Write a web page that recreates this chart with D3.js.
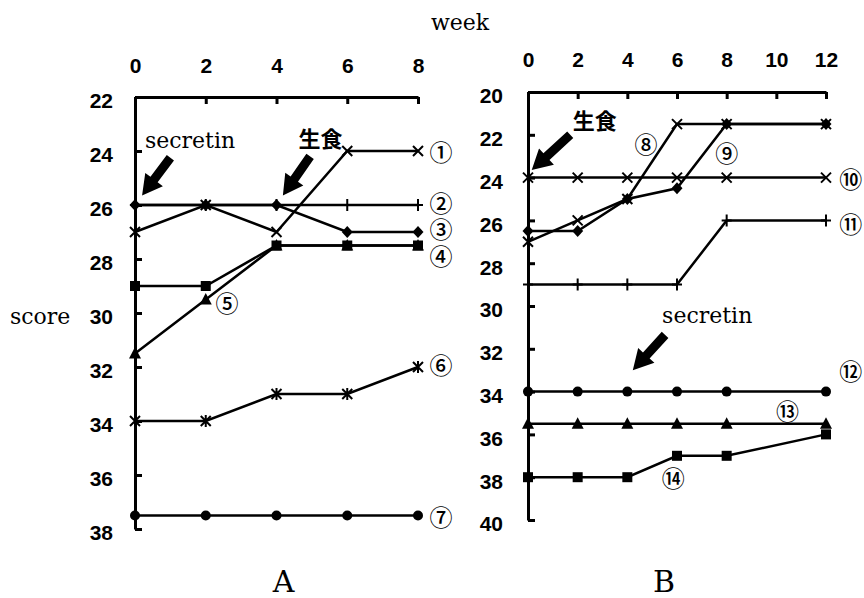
<!DOCTYPE html>
<html><head><meta charset="utf-8">
<script src="https://cdn.jsdelivr.net/npm/d3@7"></script>
<style>body{margin:0;background:#fff}svg{display:block}</style>
</head><body>
<svg id="c" width="864" height="598"></svg>
<script>
// ---------- data ----------
const weeksA = [0, 2, 4, 6, 8];
const weeksB = [0, 2, 4, 6, 8, 12];
const xTicksA = [0, 2, 4, 6, 8];
const xTicksB = [0, 2, 4, 6, 8, 10, 12];
const yTicksA = [22, 24, 26, 28, 30, 32, 34, 36, 38];
const yTicksB = [20, 22, 24, 26, 28, 30, 32, 34, 36, 38, 40];

const seriesNamesA = ["①", "②", "③", "④", "⑤", "⑥", "⑦"];
const markersA = ["x", "plus", "diamond", "square", "triangle", "asterisk", "circle"];
const s1 = [27, 26, 27, 24, 24];
const s2 = [26, 26, 26, 26, 26];
const s3 = [26, 26, 26, 27, 27];
const s4 = [29, 29, 27.5, 27.5, 27.5];
const s5 = [31.5, 29.5, 27.5, 27.5, 27.5];
const s6 = [34, 34, 33, 33, 32];
const s7 = [37.5, 37.5, 37.5, 37.5, 37.5];
// label anchor (week, score) for each circled number
const labelPosA = [[8.65, 24], [8.65, 25.88], [8.65, 26.85], [8.65, 27.85], [2.6, 29.6], [8.65, 31.9], [8.65, 37.5]];

const seriesNamesB = ["⑧", "⑨", "⑩", "⑪", "⑫", "⑬", "⑭"];
const markersB = ["x", "diamond", "x", "plus", "circle", "triangle", "square"];
const s8 = [27, 26, 25, 21.5, 21.5, 21.5];
const s9 = [26.5, 26.5, 25, 24.5, 21.5, 21.5];
const s10 = [24, 24, 24, 24, 24, 24];
const s11 = [29, 29, 29, 29, 26, 26];
const s12 = [34, 34, 34, 34, 34, 34];
const s13 = [35.5, 35.5, 35.5, 35.5, 35.5, 35.5];
const s14 = [38, 38, 38, 37, 37, 36];
const labelPosB = [[4.75, 22.4], [8.0, 22.8], [13.0, 24], [13.0, 26.1], [13.0, 33.0], [10.45, 34.85], [5.85, 38]];

// annotations: text + arrow (tail -> tip) in data units
const annotA = [
  {text: "secretin", at: [0.28, 23.9], font: "serif", tail: [1.0, 24.25], tip: [0.2, 25.65]},
  {text: "生食", at: [4.62, 23.85], font: "cjk", tail: [4.95, 24.2], tip: [4.18, 25.65]}
];
const annotB = [
  {text: "生食", at: [1.8, 21.75], font: "cjk", tail: [1.7, 22.0], tip: [0.15, 23.65]},
  {text: "secretin", at: [5.4, 30.8], font: "serif", tail: [5.52, 31.35], tip: [4.22, 33.0]}
];

// ---------- drawing ----------
const svg = d3.select("#c");
const SERIF = "'DejaVu Serif', 'Liberation Serif', serif";
const SANS = "'Liberation Sans', Arial, sans-serif";
const CJK = "'Noto Sans CJK JP', 'Noto Sans CJK SC', sans-serif";

function marker(g, type, px, py) {
  const k = g.append("g").attr("transform", `translate(${px},${py})`);
  if (type === "circle") k.append("circle").attr("r", 5).attr("fill", "#000");
  else if (type === "square") k.append("rect").attr("x", -5).attr("y", -5).attr("width", 10).attr("height", 10).attr("fill", "#000");
  else if (type === "diamond") k.append("path").attr("d", "M0,-6L5.5,0L0,6L-5.5,0Z").attr("fill", "#000");
  else if (type === "triangle") k.append("path").attr("d", "M0,-6.5L6,5L-6,5Z").attr("fill", "#000");
  else {
    let d = "";
    if (type === "x" || type === "asterisk") d += "M-5,-5L5,5M-5,5L5,-5";
    if (type === "plus") d += "M-5,0L5,0M0,-6L0,6";
    if (type === "asterisk") d += "M0,-6L0,6";
    k.append("path").attr("d", d).attr("stroke", "#000").attr("stroke-width", 2).attr("fill", "none");
  }
}

function arrow(g, tail, tip) {
  const [tx, ty] = tail, [hx, hy] = tip;
  const L = Math.hypot(hx - tx, hy - ty);
  const ux = (hx - tx) / L, uy = (hy - ty) / L;
  const nx = -uy, ny = ux;
  const sw = 4.5, hw = 11, hl = 20;
  const cx = hx - ux * hl, cy = hy - uy * hl;
  const pts = [
    [tx + nx * sw, ty + ny * sw], [cx + nx * sw, cy + ny * sw], [cx + nx * hw, cy + ny * hw],
    [hx, hy],
    [cx - nx * hw, cy - ny * hw], [cx - nx * sw, cy - ny * sw], [tx - nx * sw, ty - ny * sw]
  ];
  g.append("path").attr("d", "M" + pts.map(p => p.join(",")).join("L") + "Z").attr("fill", "#000");
}

function panel(cfg) {
  const x = d3.scaleLinear().domain(cfg.xDomain).range(cfg.xRange);
  const y = d3.scaleLinear().domain(cfg.yDomain).range(cfg.yRange);
  const g = svg.append("g");

  const ax = g.append("g").attr("transform", `translate(0,${cfg.yRange[0]})`)
    .call(d3.axisTop(x).tickValues(cfg.xTicks).tickSize(-7).tickSizeOuter(0).tickPadding(cfg.xPad));
  const ay = g.append("g").attr("transform", `translate(${cfg.xRange[0]},0)`)
    .call(d3.axisLeft(y).tickValues(cfg.yTicks).tickSize(-7).tickSizeOuter(0).tickPadding(cfg.yPad));
  [ax, ay].forEach(a => {
    a.attr("font-family", SANS).attr("font-size", 21).attr("font-weight", "bold");
    a.select(".domain").attr("stroke", "#000").attr("stroke-width", 3);
    a.selectAll(".tick line").attr("stroke", "#000").attr("stroke-width", 3);
    a.selectAll(".tick text").attr("fill", "#000");
  });
  ay.selectAll(".tick text").attr("dy", "0.52em");

  const line = d3.line().x((d, i) => x(cfg.weeks[i])).y(d => y(d));
  cfg.series.forEach((s, si) => {
    g.append("path").datum(s).attr("d", line).attr("fill", "none")
      .attr("stroke", "#000").attr("stroke-width", 2.5);
  });
  cfg.series.forEach((s, si) => {
    s.forEach((v, i) => marker(g, cfg.markers[si], x(cfg.weeks[i]), y(v)));
  });
  cfg.names.forEach((n, i) => {
    g.append("text").attr("x", x(cfg.labelPos[i][0])).attr("y", y(cfg.labelPos[i][1]))
      .attr("text-anchor", "middle").attr("dominant-baseline", "central")
      .attr("font-family", CJK).attr("font-size", 23).attr("font-weight", 500).attr("fill", "#000").text(n);
  });
  cfg.annot.forEach(a => {
    g.append("text").attr("x", x(a.at[0])).attr("y", y(a.at[1]))
      .attr("font-family", a.font === "cjk" ? CJK : SERIF)
      .attr("font-size", 22)
      .attr("font-weight", a.font === "cjk" ? "bold" : "normal")
      .attr("fill", "#000").text(a.text);
    arrow(g, [x(a.tail[0]), y(a.tail[1])], [x(a.tip[0]), y(a.tip[1])]);
  });
  g.append("text").attr("x", (cfg.xRange[0] + cfg.xRange[1]) / 2 + cfg.letterShift).attr("y", 592)
    .attr("text-anchor", "middle").attr("font-family", SERIF).attr("font-size", 30).attr("fill", "#000")
    .text(cfg.letter);
}

panel({
  xDomain: [0, 8], xRange: [135, 418], yDomain: [22, 38], yRange: [97, 529],
  xTicks: xTicksA, yTicks: yTicksA, xPad: 24, yPad: 22,
  weeks: weeksA, series: [s1, s2, s3, s4, s5, s6, s7], markers: markersA,
  names: seriesNamesA, labelPos: labelPosA, annot: annotA, letter: "A", letterShift: 7
});
panel({
  xDomain: [0, 12], xRange: [528, 826], yDomain: [20, 40], yRange: [92, 520],
  xTicks: xTicksB, yTicks: yTicksB, xPad: 25, yPad: 25,
  weeks: weeksB, series: [s8, s9, s10, s11, s12, s13, s14], markers: markersB,
  names: seriesNamesB, labelPos: labelPosB, annot: annotB, letter: "B", letterShift: -13
});

svg.append("text").attr("x", 460).attr("y", 30).attr("text-anchor", "middle")
  .attr("font-family", SERIF).attr("font-size", 22).attr("fill", "#000").text("week");
svg.append("text").attr("x", 10).attr("y", 324)
  .attr("font-family", SERIF).attr("font-size", 22).attr("fill", "#000").text("score");
</script>
</body></html>
